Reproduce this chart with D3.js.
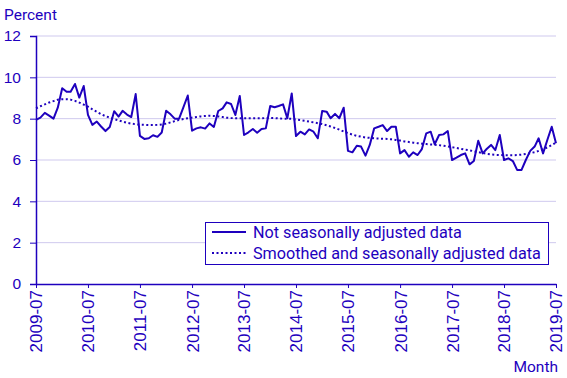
<!DOCTYPE html>
<html lang="en">
<head>
    <meta charset="UTF-8">
    <title>Percent by month</title>
    <script src="https://cdnjs.cloudflare.com/ajax/libs/d3/7.8.5/d3.min.js"></script>
    <style>
        body {
            margin: 0;
            background: white;
            font-family: Roboto, Arial, sans-serif;
        }
        svg text {
            fill: #1e00be;
            font-size: 15.5px;
        }
        .grid line {
            stroke: #cfc9ee;
            stroke-width: 1px;
        }
    </style>
</head>
<body>
    <svg width="567" height="378"></svg>

    <script>
        const firstMonth = "2009-07";
        const lastMonth = "2019-07";

        const tickLabels = ["2009-07", "2010-07", "2011-07", "2012-07", "2013-07", "2014-07",
            "2015-07", "2016-07", "2017-07", "2018-07", "2019-07"];
        const yTicks = [0, 2, 4, 6, 8, 10, 12];

        // not seasonally adjusted, monthly
        const rawValues = [
            7.94, 8.05, 8.28, 8.15, 8.00, 8.53, 9.47, 9.30, 9.30, 9.68, 9.02, 9.58,
            8.18, 7.70, 7.86, 7.62, 7.40, 7.60, 8.36, 8.10, 8.38, 8.20, 8.08, 9.19,
            7.17, 7.02, 7.05, 7.20, 7.12, 7.33, 8.38, 8.21, 8.00, 8.00, 8.55, 9.12,
            7.42, 7.53, 7.58, 7.52, 7.77, 7.60, 8.37, 8.50, 8.79, 8.71, 8.18, 9.10,
            7.21, 7.34, 7.50, 7.32, 7.50, 7.53, 8.61, 8.55, 8.61, 8.69, 8.02, 9.22,
            7.16, 7.37, 7.24, 7.48, 7.37, 7.05, 8.37, 8.34, 8.02, 8.23, 8.02, 8.53,
            6.44, 6.37, 6.69, 6.65, 6.21, 6.73, 7.53, 7.61, 7.69, 7.40, 7.61, 7.61,
            6.32, 6.48, 6.16, 6.37, 6.24, 6.53, 7.29, 7.37, 6.76, 7.21, 7.24, 7.40,
            6.00, 6.11, 6.24, 6.32, 5.79, 5.95, 6.93, 6.32, 6.53, 6.73, 6.48, 7.21,
            6.00, 6.08, 5.95, 5.52, 5.52, 6.00, 6.44, 6.65, 7.05, 6.32, 6.97, 7.61,
            6.81
        ];

        // smoothed and seasonally adjusted
        const smoothValues = [
            8.50, 8.60, 8.69, 8.78, 8.85, 8.92, 8.94, 8.94, 8.92, 8.86, 8.78, 8.68,
            8.58, 8.45, 8.33, 8.22, 8.12, 8.05, 7.98, 7.92, 7.86, 7.80, 7.76, 7.73,
            7.71, 7.70, 7.69, 7.69, 7.70, 7.72, 7.76, 7.82, 7.88, 7.94, 7.98, 8.02,
            8.05, 8.08, 8.11, 8.13, 8.14, 8.13, 8.11, 8.08, 8.05, 8.03, 8.02, 8.02,
            8.02, 8.02, 8.02, 8.02, 8.02, 8.03, 8.04, 8.03, 8.01, 8.00, 8.00, 7.99,
            7.96, 7.93, 7.90, 7.86, 7.82, 7.78, 7.74, 7.68, 7.62, 7.55, 7.47, 7.38,
            7.30, 7.23, 7.17, 7.13, 7.09, 7.07, 7.05, 7.04, 7.03, 7.02, 7.00, 6.97,
            6.94, 6.90, 6.87, 6.84, 6.81, 6.79, 6.77, 6.75, 6.74, 6.72, 6.69, 6.66,
            6.62, 6.58, 6.54, 6.50, 6.47, 6.42, 6.38, 6.34, 6.30, 6.27, 6.25, 6.24,
            6.23, 6.23, 6.23, 6.24, 6.26, 6.29, 6.33, 6.38, 6.44, 6.52, 6.61, 6.72,
            6.84
        ];

        const seriesNames = ["Not seasonally adjusted data", "Smoothed and seasonally adjusted data"];

        const blue = "#1e00be";
        const parseMonth = d3.timeParse("%Y-%m");
        const months = d3.timeMonth.range(parseMonth(firstMonth), d3.timeMonth.offset(parseMonth(lastMonth), 1));

        const margin = { top: 36, right: 11, bottom: 94, left: 36 };
        const width = 567, height = 378;

        const svg = d3.select("svg");

        const x = d3.scaleTime()
            .domain([parseMonth(firstMonth), parseMonth(lastMonth)])
            .range([margin.left, width - margin.right]);

        const y = d3.scaleLinear()
            .domain([0, 12])
            .range([height - margin.bottom, margin.top]);

        // gridlines
        svg.append("g")
            .attr("class", "grid")
            .selectAll("line")
            .data(yTicks.filter(d => d > 0))
            .enter()
            .append("line")
            .attr("x1", margin.left)
            .attr("x2", width - margin.right)
            .attr("y1", d => y(d))
            .attr("y2", d => y(d));

        // y axis
        const yAxis = svg.append("g")
            .attr("transform", `translate(${margin.left},0)`)
            .call(d3.axisLeft(y).tickValues(yTicks).tickSize(6).tickPadding(9));
        yAxis.select(".domain").attr("stroke", blue).attr("stroke-width", 1.5);
        yAxis.selectAll(".tick line").attr("stroke", blue);
        yAxis.selectAll("text").style("font-size", "15.5px");

        // x axis
        const xAxis = svg.append("g")
            .attr("transform", `translate(0,${y(0)})`)
            .call(d3.axisBottom(x).tickValues(tickLabels.map(parseMonth)).tickSize(4).tickSizeOuter(0)
                .tickFormat(d3.timeFormat("%Y-%m")));
        xAxis.select(".domain").attr("stroke", blue).attr("stroke-width", 1.5);
        xAxis.selectAll(".tick line").attr("stroke", blue);
        xAxis.selectAll("text")
            .style("font-size", "17px")
            .attr("transform", "rotate(-90)")
            .attr("text-anchor", "end")
            .attr("x", -6)
            .attr("y", 0)
            .attr("dy", "0.35em");

        const line = d3.line()
            .x((d, i) => x(months[i]))
            .y(d => y(d));

        svg.append("path")
            .datum(smoothValues)
            .attr("fill", "none")
            .attr("stroke", blue)
            .attr("stroke-width", 2)
            .attr("stroke-dasharray", "2,2.5")
            .attr("d", line);

        svg.append("path")
            .datum(rawValues)
            .attr("fill", "none")
            .attr("stroke", blue)
            .attr("stroke-width", 2)
            .attr("stroke-linejoin", "round")
            .attr("d", line);

        // titles
        svg.append("text")
            .attr("x", 4)
            .attr("y", 20)
            .text("Percent");

        svg.append("text")
            .attr("x", width - 9)
            .attr("y", 372)
            .attr("text-anchor", "end")
            .text("Month");

        // legend
        const legend = svg.append("g");
        legend.append("rect")
            .attr("x", 205.5)
            .attr("y", 222.5)
            .attr("width", 343)
            .attr("height", 42)
            .attr("fill", "white")
            .attr("stroke", blue)
            .attr("stroke-width", 1);

        seriesNames.forEach((name, i) => {
            const ly = 232 + i * 21;
            legend.append("line")
                .attr("x1", 212)
                .attr("x2", 246)
                .attr("y1", ly)
                .attr("y2", ly)
                .attr("stroke", blue)
                .attr("stroke-width", 2)
                .attr("stroke-dasharray", i === 1 ? "2,2.5" : null);
            legend.append("text")
                .attr("x", 253)
                .attr("y", ly + 5.5)
                .style("font-size", "16.2px")
                .text(name);
        });
    </script>
</body>
</html>
